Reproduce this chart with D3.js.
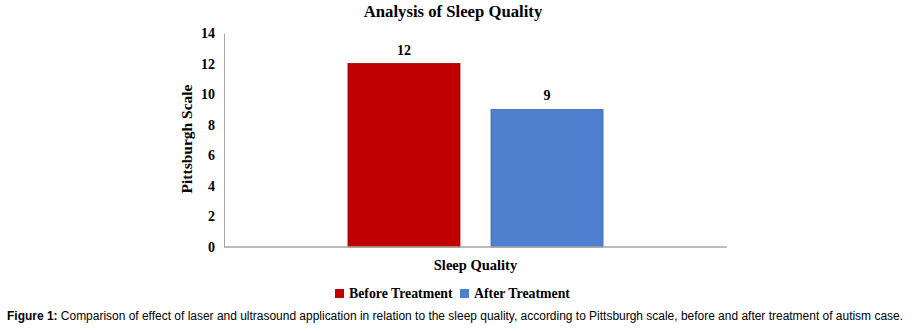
<!DOCTYPE html>
<html>
<head>
<meta charset="utf-8">
<script src="https://cdn.jsdelivr.net/npm/d3@7"></script>
<style>
  html, body { margin: 0; padding: 0; background: #fff; }
  svg { display: block; }
</style>
</head>
<body>
<svg id="chart" width="919" height="331"></svg>
<script>
  // data
  const categories = ['Sleep Quality'];
  const seriesNames = ['Before Treatment', 'After Treatment'];
  const seriesValues = [12, 9];
  const seriesColors = ['#c00000', '#4f7fcf'];
  const yTicks = [0, 2, 4, 6, 8, 10, 12, 14];

  const svg = d3.select('#chart');
  const margin = { left: 224, right: 192, top: 33, bottom: 84 };
  const width = 919, height = 331;
  const innerW = width - margin.left - margin.right;
  const innerH = height - margin.top - margin.bottom;
  const serif = '"Times New Roman", "Liberation Serif", serif';

  const g = svg.append('g').attr('transform', 'translate(' + margin.left + ',' + margin.top + ')');

  const x0 = d3.scaleBand().domain(categories).range([0, innerW]).paddingInner(0).paddingOuter(0.486);
  const x1 = d3.scaleBand().domain(seriesNames).range([0, x0.bandwidth()]).paddingInner(0.217).paddingOuter(0);
  const y = d3.scaleLinear().domain([0, 14]).range([innerH, 0]);

  // y axis
  const yAxis = g.append('g').call(d3.axisLeft(y).tickValues(yTicks).tickSize(0).tickPadding(9));
  yAxis.select('.domain').attr('stroke', '#a6a6a6').attr('stroke-width', 1);
  yAxis.selectAll('text')
    .style('font-family', serif).style('font-weight', 'bold').style('font-size', '14px').attr('fill', '#000');

  // bars
  const groups = g.selectAll('g.cat').data(categories).join('g')
    .attr('class', 'cat')
    .attr('transform', function (d) { return 'translate(' + x0(d) + ',0)'; });
  groups.selectAll('rect').data(seriesNames.map(function (s, i) {
    return { name: s, value: seriesValues[i], color: seriesColors[i] };
  })).join('rect')
    .attr('x', function (d) { return x1(d.name); })
    .attr('y', function (d) { return y(d.value); })
    .attr('width', x1.bandwidth())
    .attr('height', function (d) { return y(0) - y(d.value); })
    .attr('fill', function (d) { return d.color; })
    .attr('stroke', function (d) { return d3.color(d.color).darker(0.6); })
    .attr('stroke-width', 0.8);
  groups.selectAll('text.val').data(seriesNames.map(function (s, i) {
    return { name: s, value: seriesValues[i] };
  })).join('text')
    .attr('class', 'val')
    .attr('x', function (d) { return x1(d.name) + x1.bandwidth() / 2; })
    .attr('y', function (d) { return y(d.value) - 9; })
    .attr('text-anchor', 'middle')
    .style('font-family', serif).style('font-weight', 'bold').style('font-size', '14px')
    .text(function (d) { return d.value; });

  // x axis (no labels)
  g.append('line')
    .attr('x1', 0).attr('x2', innerW).attr('y1', y(0)).attr('y2', y(0))
    .attr('stroke', '#a6a6a6').attr('stroke-width', 1.6);

  // title
  svg.append('text')
    .attr('x', 453).attr('y', 17)
    .attr('text-anchor', 'middle')
    .style('font-family', serif).style('font-weight', 'bold').style('font-size', '16.7px')
    .text('Analysis of Sleep Quality');

  // axis titles
  svg.append('text')
    .attr('x', margin.left + innerW / 2).attr('y', 270)
    .attr('text-anchor', 'middle')
    .style('font-family', serif).style('font-weight', 'bold').style('font-size', '14.5px')
    .text('Sleep Quality');
  svg.append('text')
    .attr('transform', 'translate(192,139) rotate(-90)')
    .attr('text-anchor', 'middle')
    .style('font-family', serif).style('font-weight', 'bold').style('font-size', '15.5px')
    .text('Pittsburgh Scale');

  // legend
  const legendX = [335, 460];
  const legend = svg.append('g');
  seriesNames.forEach(function (s, i) {
    legend.append('rect')
      .attr('x', legendX[i]).attr('y', 289).attr('width', 9).attr('height', 9)
      .attr('fill', seriesColors[i]);
    legend.append('text')
      .attr('x', legendX[i] + 14).attr('y', 298)
      .style('font-family', serif).style('font-weight', 'bold').style('font-size', '13.8px')
      .text(s);
  });

  // caption
  const caption = svg.append('text')
    .attr('x', 7).attr('y', 320)
    .attr('textLength', 896).attr('lengthAdjust', 'spacingAndGlyphs')
    .style('font-family', 'Arial, "Liberation Sans", sans-serif').style('font-size', '12px');
  caption.append('tspan').style('font-weight', 'bold').text('Figure 1:');
  caption.append('tspan').text(' Comparison of effect of laser and ultrasound application in relation to the sleep quality, according to Pittsburgh scale, before and after treatment of autism case.');
</script>
</body>
</html>
